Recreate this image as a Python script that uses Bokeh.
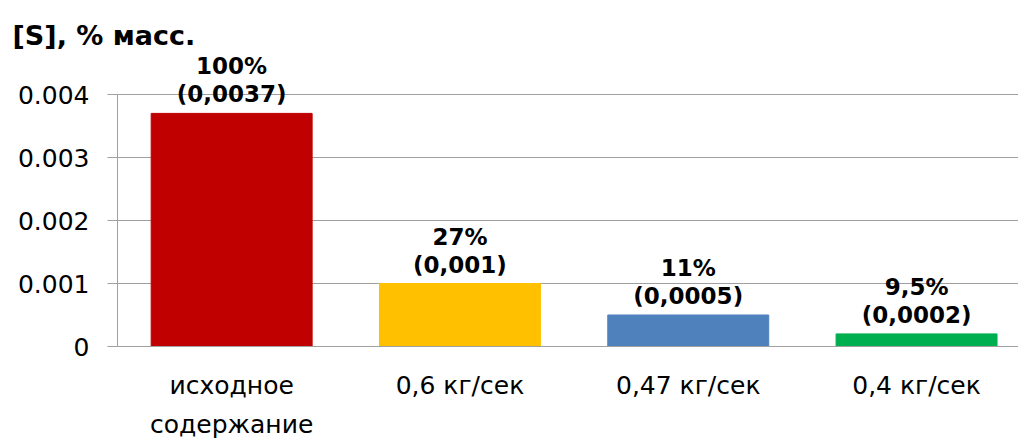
from bokeh.plotting import figure
from bokeh.models import Range1d, FixedTicker, LabelSet, ColumnDataSource
from bokeh.core.properties import value
from bokeh.embed import file_html
from bokeh.resources import INLINE

categories = ["исходное\nсодержание", "0,6 кг/сек", "0,47 кг/сек", "0,4 кг/сек"]
values = [0.0037, 0.001, 0.0005, 0.0002]
percent_labels = ["100%", "27%", "11%", "9,5%"]
value_labels = ["(0,0037)", "(0,001)", "(0,0005)", "(0,0002)"]
colors = ["#C00000", "#FFC000", "#4F81BD", "#00B050"]
y_ticks = [0, 0.001, 0.002, 0.003, 0.004]
y_tick_labels = ["0", "0.001", "0.002", "0.003", "0.004"]
title_text = "[S], % масс."

FONT = "DejaVu Sans"
xpos = list(range(len(categories)))

# frame: left 117px, bottom 346px; 0.004 should sit at 94px
top_border = 50
px_per_unit = (346 - 94) / 0.004
y_end = 0.004 + (94 - top_border) / px_per_unit
x_end = -0.5 + (1018 - 117) / 228.3

p = figure(width=1018, height=441, output_backend="svg", toolbar_location=None,
           x_range=Range1d(-0.5, x_end), y_range=Range1d(0, y_end),
           min_border_left=117, min_border_right=0, min_border_top=top_border,
           min_border_bottom=95)
p.outline_line_color = None
p.background_fill_color = "white"
p.border_fill_color = "white"

p.title.text = title_text
p.title.align = "left"
p.title.offset = -105
p.title.standoff = 0
p.title.text_font = FONT
p.title.text_font_size = "27px"
p.title.text_font_style = "bold"
p.title.text_color = "black"

src = ColumnDataSource(dict(x=xpos, top=values, color=colors,
                            pct=percent_labels, val=value_labels))
p.vbar(x="x", top="top", width=0.705, bottom=0, color="color", source=src)

p.xgrid.visible = False
p.ygrid.grid_line_color = "#A0A0A0"
p.ygrid.grid_line_width = 1
p.ygrid.ticker = FixedTicker(ticks=y_ticks)

p.yaxis.ticker = FixedTicker(ticks=y_ticks)
p.yaxis.bounds = (y_ticks[0], y_ticks[-1])
p.yaxis.major_label_overrides = dict(zip(y_ticks, y_tick_labels))
p.yaxis.axis_line_color = "#A0A0A0"
p.yaxis.major_tick_line_color = "#A0A0A0"
p.yaxis.major_tick_out = 10
p.yaxis.major_tick_in = 0
p.yaxis.minor_tick_line_color = None
p.yaxis.major_label_standoff = 18
p.yaxis.major_label_text_font = FONT
p.yaxis.major_label_text_font_size = "25px"
p.yaxis.major_label_text_color = "black"

p.xaxis.ticker = FixedTicker(ticks=xpos)
p.xaxis.major_label_overrides = dict(zip(xpos, categories))
p.xaxis.axis_line_color = "#A0A0A0"
p.xaxis.major_tick_line_color = None
p.xaxis.minor_tick_line_color = None
p.xaxis.major_label_standoff = 18
p.xaxis.major_label_text_font = FONT
p.xaxis.major_label_text_font_size = "25px"
p.xaxis.major_label_text_line_height = 1.35
p.xaxis.major_label_text_color = "black"

common = dict(x="x", y="top", source=src, text_align="center", text_baseline="bottom",
              text_font=value(FONT), text_font_size=value("23px"),
              text_font_style=value("bold"), text_color=value("black"))
p.add_layout(LabelSet(text="val", y_offset=6, **common))
p.add_layout(LabelSet(text="pct", y_offset=34, **common))

open("out.html", "w").write(file_html(p, INLINE))
